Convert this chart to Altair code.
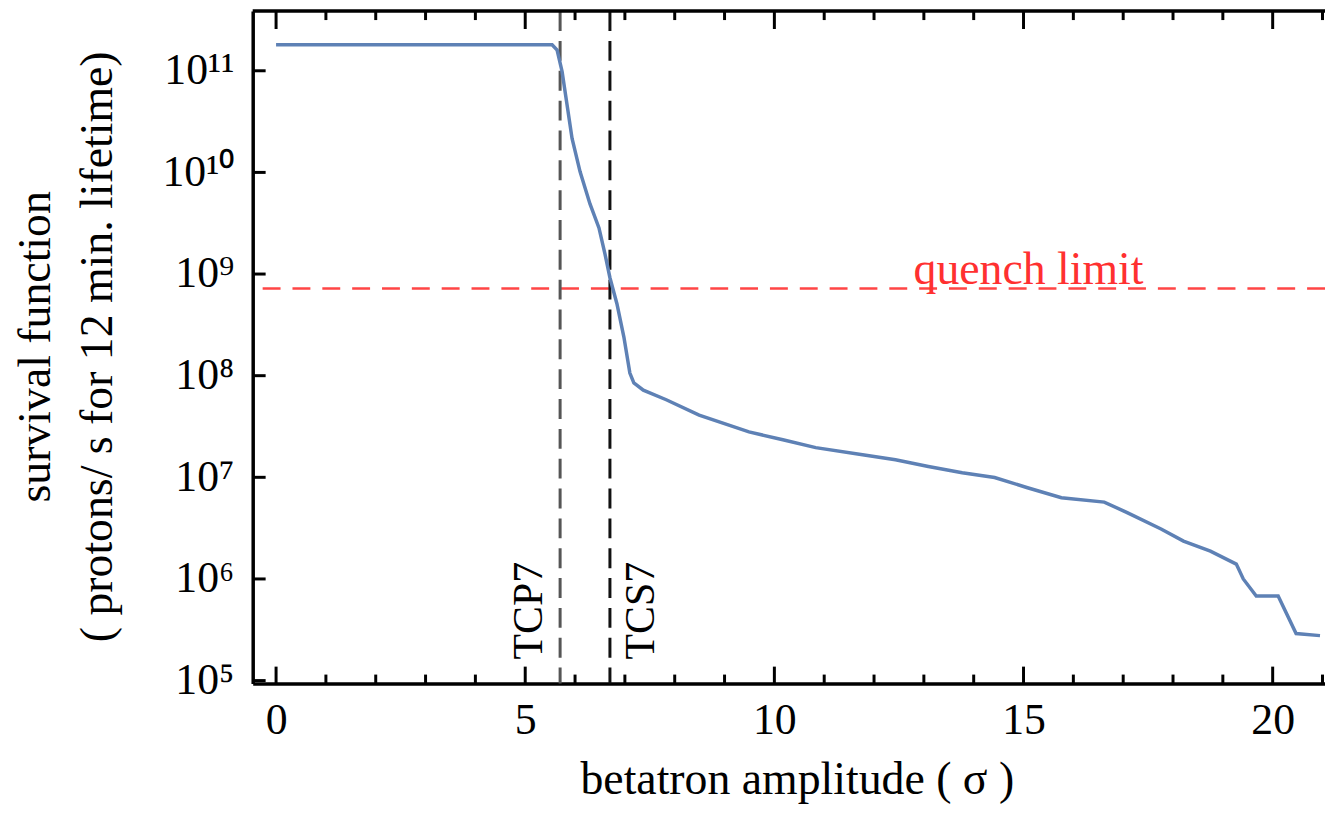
import json
import altair as alt
import pandas as pd

# ---- data ----
amplitude = [0, 5.54, 5.64, 5.74, 5.84, 5.94, 6.10, 6.30, 6.48, 6.60,
             6.70, 6.84, 6.98, 7.10, 7.18, 7.37, 7.83, 8.49, 9.49, 10.17,
             10.83, 11.77, 12.43, 13.09, 13.77, 14.42, 15.08, 15.76, 16.62, 17.08,
             17.76, 18.21, 18.75, 19.27, 19.41, 19.67, 20.11, 20.47, 20.95]
survival = [1.8e11, 1.8e11, 1.6e11, 9.8e10, 4.6e10, 2.16e10, 1.02e10, 4.9e9, 2.84e9, 1.58e9,
            9.2e8, 5.1e8, 2.4e8, 1.06e8, 8.5e7, 7.2e7, 5.8e7, 4.1e7, 2.8e7, 2.34e7,
            1.96e7, 1.67e7, 1.49e7, 1.28e7, 1.11e7, 9.95e6, 7.9e6, 6.3e6, 5.7e6, 4.5e6,
            3.1e6, 2.36e6, 1.88e6, 1.4e6, 1.0e6, 6.8e5, 6.8e5, 2.9e5, 2.77e5]

collimators = ["TCP7", "TCS7"]
collimator_pos = [5.7, 6.7]
collimator_label_y = [4.87e5, 4.87e5]

quench_limit = [7.2e8]
quench_text = ["quench limit"]
quench_label_x = [15.1]

x_major = [0, 5, 10, 15, 20]
x_minor = [1, 2, 3, 4, 6, 7, 8, 9, 11, 12, 13, 14, 16, 17, 18, 19, 21]
y_ticks = [1e5, 1e6, 1e7, 1e8, 1e9, 1e10, 1e11]
y_tick_labels = ["10⁵", "10⁶", "10⁷", "10⁸", "10⁹", "10¹⁰", "10¹¹"]

x_title = "betatron amplitude ( σ )"
y_title = ["survival function", "( protons/ s for 12 min. lifetime)"]

# ---- layout ----
W, H = 1078, 676
FONT = "Liberation Serif"
FS = 44

x_scale = alt.Scale(domain=[-0.469, 21.05], nice=False, zero=False)
y_scale = alt.Scale(type="log", domain=[9.354e4, 3.864e11], nice=False)

x_axis = alt.Axis(values=x_major, ticks=False, tickSize=0, grid=False,
                  domainColor="black", domainWidth=3.5,
                  labelFont=FONT, labelFontSize=FS, labelColor="black",
                  labelPadding=50, labelBaseline="alphabetic", labelFlush=False,
                  title=x_title, titleFont=FONT, titleFontSize=46,
                  titleFontWeight="normal", titleColor="black",
                  titleX=547, titleY=111, titleAlign="center",
                  titleBaseline="alphabetic")

label_expr = json.dumps(y_tick_labels, ensure_ascii=False) + "[round(log(datum.value)/LN10) - 5]"
y_axis = alt.Axis(values=y_ticks, ticks=False, tickSize=0, grid=False,
                  domainColor="black", domainWidth=3.5,
                  labelFont=FONT, labelFontSize=FS, labelColor="black",
                  labelPadding=19, labelExpr=label_expr, labelFlush=False,
                  labelOverlap=False,
                  title=y_title, titleFont=FONT, titleFontSize=46,
                  titleFontWeight="normal", titleColor="black",
                  titleAngle=270, titleX=-204, titleY=337, titleAlign="center",
                  titleBaseline="alphabetic", titleLineHeight=62)


def X(field):
    return alt.X(field, type="quantitative", scale=x_scale, axis=x_axis)


def Y(field):
    return alt.Y(field, type="quantitative", scale=y_scale, axis=y_axis)


curve_df = pd.DataFrame({"a": amplitude, "s": survival})
cut_df = pd.DataFrame({"name": collimators, "a": collimator_pos, "s": collimator_label_y})
quench_df = pd.DataFrame({"s": quench_limit, "a": quench_label_x, "t": quench_text})
xmaj_df = pd.DataFrame({"a": x_major})
xmin_df = pd.DataFrame({"a": x_minor})
yt_df = pd.DataFrame({"s": y_ticks})

curve = alt.Chart(curve_df).mark_line(color="#5E81B5", strokeWidth=3.5).encode(
    x=X("a"), y=Y("s"))

quench = alt.Chart(quench_df).mark_rule(color="#ff4545", strokeWidth=2.6,
                                        strokeDash=[18, 12]).encode(y=Y("s"))
quench_lbl = alt.Chart(quench_df).mark_text(
    font=FONT, fontSize=46, color="#ff3030", baseline="alphabetic",
    align="center", dy=-5).encode(x=X("a"), y=Y("s"), text="t:N")

tcp = alt.Chart(cut_df.iloc[[0]]).mark_rule(color="#555555", strokeWidth=3,
                                           strokeDash=[20, 10]).encode(x=X("a"))
tcs = alt.Chart(cut_df.iloc[[1]]).mark_rule(color="#111111", strokeWidth=3,
                                           strokeDash=[20, 10]).encode(x=X("a"))
tcp_lbl = alt.Chart(cut_df.iloc[[0]]).mark_text(
    font=FONT, fontSize=42, color="black", angle=270, align="center",
    baseline="alphabetic", dy=-18).encode(x=X("a"), y=Y("s"), text="name:N")
tcs_lbl = alt.Chart(cut_df.iloc[[1]]).mark_text(
    font=FONT, fontSize=42, color="black", angle=270, align="center",
    baseline="alphabetic", dy=44).encode(x=X("a"), y=Y("s"), text="name:N")

tick_color = "black"
bot_major = alt.Chart(xmaj_df).mark_rule(color=tick_color, strokeWidth=3).encode(
    x=X("a"), y=alt.value(H), y2=alt.value(H - 17))
bot_minor = alt.Chart(xmin_df).mark_rule(color=tick_color, strokeWidth=3).encode(
    x=X("a"), y=alt.value(H), y2=alt.value(H - 9))
top_major = alt.Chart(xmaj_df).mark_rule(color=tick_color, strokeWidth=3).encode(
    x=X("a"), y=alt.value(0), y2=alt.value(18))
top_minor = alt.Chart(xmin_df).mark_rule(color=tick_color, strokeWidth=3).encode(
    x=X("a"), y=alt.value(0), y2=alt.value(9))
left_ticks = alt.Chart(yt_df).mark_rule(color=tick_color, strokeWidth=3).encode(
    y=Y("s"), x=alt.value(0), x2=alt.value(13))
top_frame = alt.Chart(xmaj_df.iloc[[0]]).mark_rule(color="black", strokeWidth=3.5).encode(
    x=alt.value(0), x2=alt.value(W), y=alt.value(0))

chart = alt.layer(
    quench, tcp, tcs, curve, quench_lbl, tcp_lbl, tcs_lbl,
    bot_major, bot_minor, top_major, top_minor, left_ticks, top_frame
).properties(
    width=W, height=H,
    autosize=alt.AutoSizeParams(type="none"),
    padding={"left": 246, "top": 1, "right": 0, "bottom": 123},
    background="white",
).configure_view(stroke=None)

chart.save("out.html", embed_options={"renderer": "svg", "actions": False})
